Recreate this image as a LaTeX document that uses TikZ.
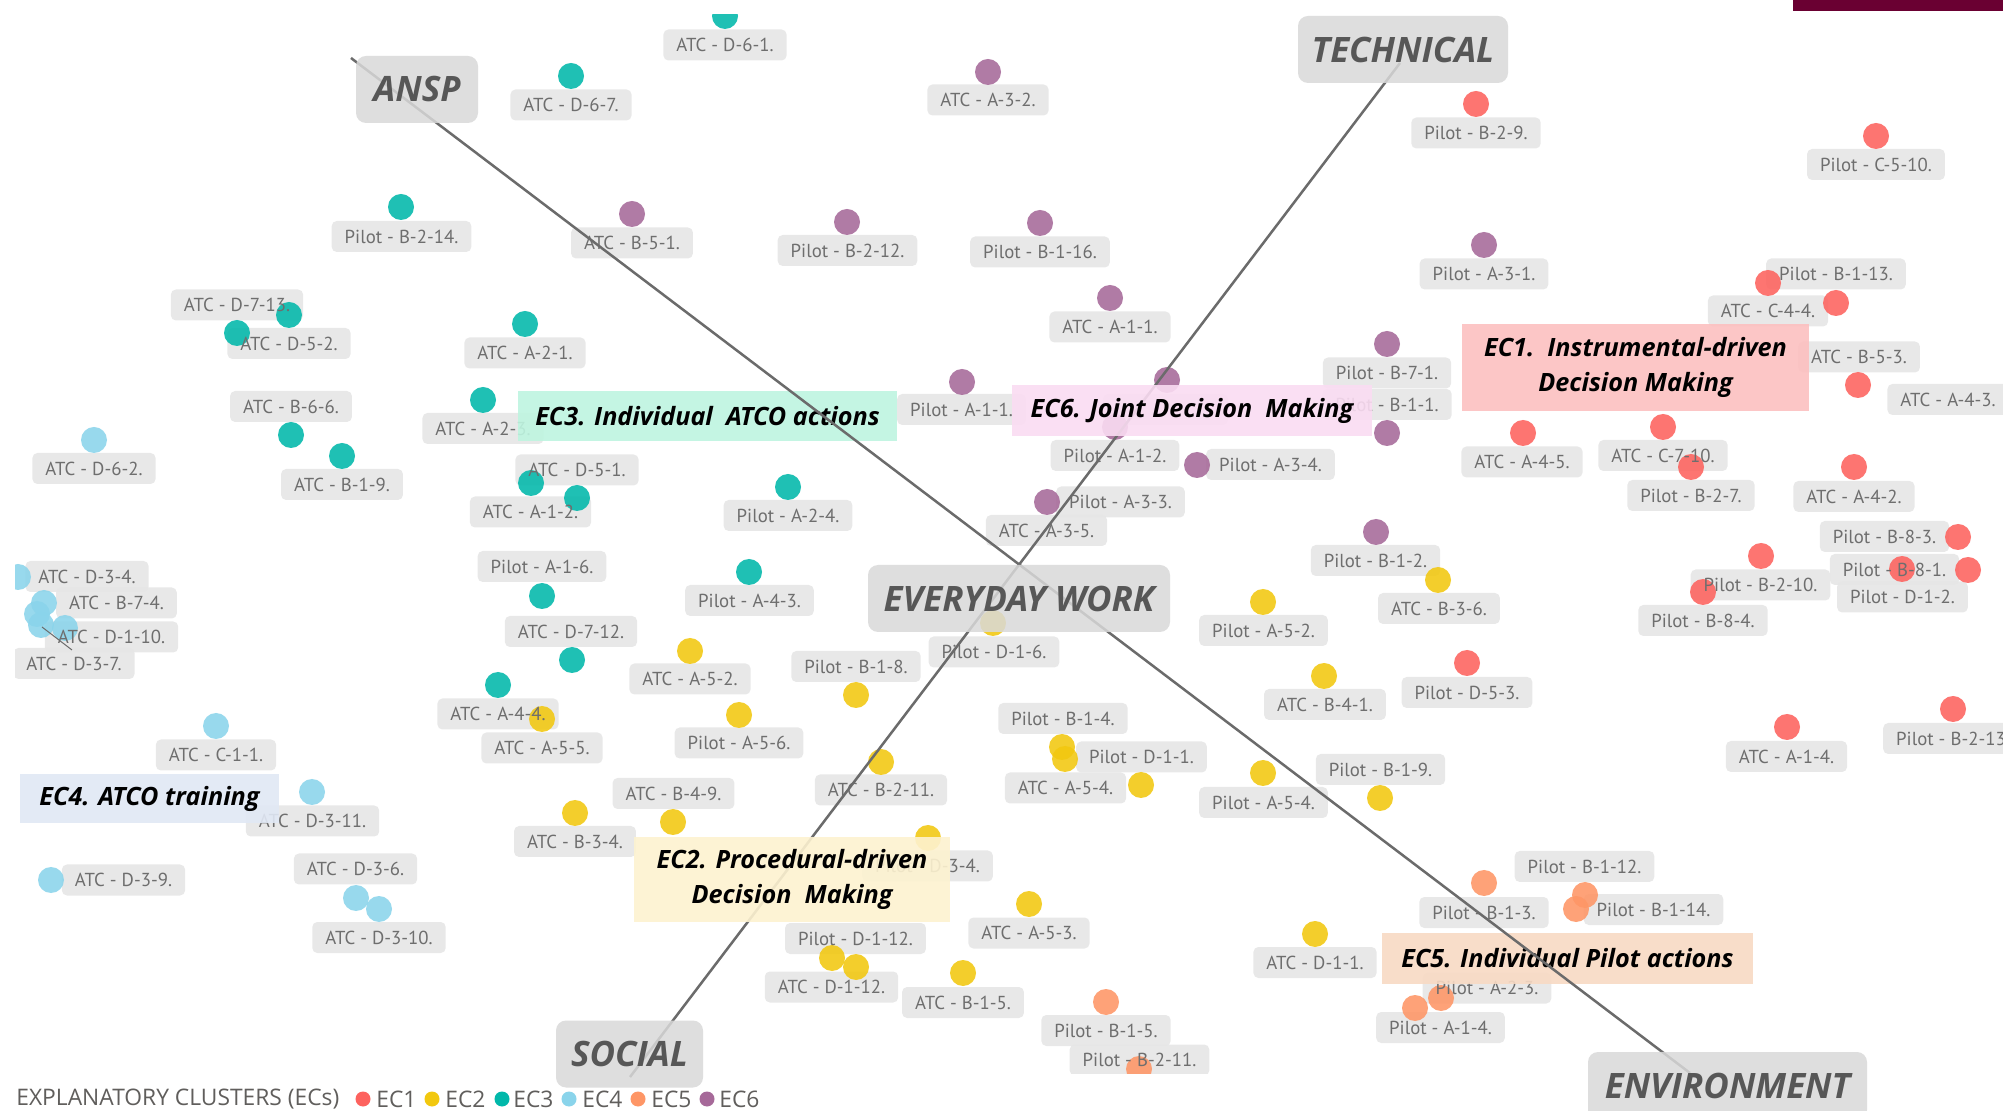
\documentclass[tikz,border=0pt]{standalone}
\usepackage{fontspec}
\newfontfamily\lblfont{PT Sans}
\newfontfamily\uifont{Open Sans}
\definecolor{econe}{HTML}{FD625E}
\definecolor{ectwo}{HTML}{F2C80F}
\definecolor{ecthree}{HTML}{01B8AA}
\definecolor{ecfour}{HTML}{8AD4EB}
\definecolor{ecfive}{HTML}{FE9666}
\definecolor{ecsix}{HTML}{A66999}
\definecolor{bgone}{HTML}{FCC0C0}
\definecolor{bgtwo}{HTML}{FDF2D0}
\definecolor{bgthree}{HTML}{BEF5E0}
\definecolor{bgfour}{HTML}{E1E8F5}
\definecolor{bgfive}{HTML}{F8DAC4}
\definecolor{bgsix}{HTML}{FADCF2}
\definecolor{lblfill}{HTML}{E6E6E6}
\definecolor{lbltext}{HTML}{6E6E6E}
\definecolor{axfill}{HTML}{D9D9D9}
\definecolor{axtext}{HTML}{575757}
\definecolor{axline}{HTML}{6B6B6B}
\definecolor{legtext}{HTML}{605E5C}
\definecolor{maroon}{HTML}{6A0032}
\begin{document}
\begin{tikzpicture}[x=0.5pt,y=-0.5pt,
  lblbox/.style={fill=lblfill, fill opacity=0.9, rounded corners=2.5pt,
    minimum height=15.5pt, inner xsep=6.5pt, inner ysep=0pt,
    font=\lblfont\fontsize{9.4}{12}\selectfont},
  lbltxt/.style={minimum height=15.5pt, inner xsep=6.5pt, inner ysep=0pt,
    text=lbltext, font=\lblfont\fontsize{9.4}{12}\selectfont},
  dot/.style={circle, fill=#1, fill opacity=0.88, minimum size=13pt, inner sep=0pt},
  legdot/.style={circle, fill=#1, minimum size=7.5pt, inner sep=0pt},
  legend/.style={anchor=west, inner sep=0pt, text=legtext,
    font=\uifont\fontsize{11.4}{13}\selectfont},
  ecbox/.style={fill=#1, fill opacity=0.9, text opacity=1, inner sep=0pt,
    align=center, text=black,
    font=\uifont\bfseries\itshape\fontsize{12.6}{17.5}\selectfont},
  axbox/.style={fill=axfill, fill opacity=0.85, text opacity=1,
    rounded corners=5pt, inner sep=0pt, minimum height=33.5pt, text=axtext,
    font=\uifont\bfseries\itshape\fontsize{17.5}{19}\selectfont},
  axis/.style={draw=axline, line width=1.25pt}]
\useasboundingbox (0,0) rectangle (2003,1111);
\fill[white] (0,0) rectangle (2003,1111);
\fill[maroon] (1793,0) rectangle (2003,11);

% data points: colour / x / y
\def\dotlist{
ecthree/401/207, ecthree/289/315, ecthree/237/333, ecthree/725/16,
ecthree/571/76, ecthree/525/324, ecthree/483/400, ecthree/291/435,
ecthree/342/456, ecthree/531/483, ecthree/577/498, ecthree/788/487,
ecthree/542/596, ecthree/572/660, ecthree/749/572, ecthree/498/685,
ecsix/988/72, ecsix/632/214, ecsix/847/222, ecsix/1040/223, ecsix/1110/298,
ecsix/1484/245, ecsix/1387/344, ecsix/962/382, ecsix/1167/380,
ecsix/1115/427, ecsix/1387/433, ecsix/1197/465, ecsix/1047/502,
ecsix/1376/532,
econe/1476/104, econe/1876/136, econe/1768/283, econe/1836/303,
econe/1858/385, econe/1523/433, econe/1663/427, econe/1691/467,
econe/1854/467, econe/1958/537, econe/1902/569, econe/1968/570,
econe/1761/556, econe/1703/592, econe/1467/663, econe/1787/727,
econe/1953/709,
ectwo/993/623, ectwo/690/651, ectwo/856/695, ectwo/739/715, ectwo/542/719,
ectwo/575/813, ectwo/673/822, ectwo/881/762, ectwo/928/838, ectwo/832/958,
ectwo/856/967, ectwo/963/973, ectwo/1029/904, ectwo/1062/747,
ectwo/1065/759, ectwo/1141/785, ectwo/1263/773, ectwo/1380/798,
ectwo/1315/934, ectwo/1438/580, ectwo/1263/602, ectwo/1324/676,
ecfour/94/440, ecfour/18/577, ecfour/44/603, ecfour/37/614, ecfour/41/625,
ecfour/65/628, ecfour/216/726, ecfour/312/792, ecfour/51/880,
ecfour/356/898, ecfour/379/909,
ecfive/1106/1002, ecfive/1139/1069, ecfive/1484/883, ecfive/1415/1008,
ecfive/1441/998, ecfive/1585/895, ecfive/1576/909}

% data labels: x / y / text
\def\lablist{
401.5/236.5/Pilot - B-2-14., 237/305/ATC - D-7-13., 289/343.5/ATC - D-5-2.,
725/45/ATC - D-6-1., 571/105/ATC - D-6-7., 988/100/ATC - A-3-2.,
632/243/ATC - B-5-1., 847.5/250.5/Pilot - B-2-12., 525/353/ATC - A-2-1.,
1040/252/Pilot - B-1-16., 1110/327/ATC - A-1-1., 1476/133/Pilot - B-2-9.,
1484/274/Pilot - A-3-1., 1387/373/Pilot - B-7-1., 1876/164.5/Pilot - C-5-10.,
1836/274/Pilot - B-1-13., 1768/311/ATC - C-4-4., 1859/357/ATC - B-5-3.,
1948/399.5/ATC - A-4-3., 1522/462/ATC - A-4-5., 1663/455.5/ATC - C-7-10.,
1691/495.5/Pilot - B-2-7., 1854/496.5/ATC - A-4-2., 1884.5/536.5/Pilot - B-8-3.,
1894.5/569.5/Pilot - B-8-1., 1902.5/597/Pilot - D-1-2.,
1760.5/585/Pilot - B-2-10., 1703/620.5/Pilot - B-8-4.,
1786.5/756.5/ATC - A-1-4., 1953/738.5/Pilot - B-2-13.,
961.5/409.5/Pilot - A-1-1., 483/428.5/ATC - A-2-3., 577/470/ATC - D-5-1.,
530.5/512/ATC - A-1-2., 788/515.5/Pilot - A-2-4., 542/566.5/Pilot - A-1-6.,
571/631.5/ATC - D-7-12., 749.5/600.5/Pilot - A-4-3., 994/652/Pilot - D-1-6.,
690/679/ATC - A-5-2., 856/666.5/Pilot - B-1-8., 739/743/Pilot - A-5-6.,
498/714/ATC - A-4-4., 542/748/ATC - A-5-5., 291/406.5/ATC - B-6-6.,
342/484.5/ATC - B-1-9., 94/468.5/ATC - D-6-2., 87/576.5/ATC - D-3-4.,
116.5/603/ATC - B-7-4., 111.5/637/ATC - D-1-10., 74/663.5/ATC - D-3-7.,
216/755/ATC - C-1-1., 312.5/821/ATC - D-3-11., 123.5/880/ATC - D-3-9.,
355.5/869/ATC - D-3-6., 379/937.5/ATC - D-3-10., 575/841.5/ATC - B-3-4.,
673.5/793.5/ATC - B-4-9., 881/790/ATC - B-2-11., 927.5/866/Pilot - D-3-4.,
855.5/938.5/Pilot - D-1-12., 831.5/987/ATC - D-1-12., 963/1002.5/ATC - B-1-5.,
1029/933/ATC - A-5-3., 1065.5/788/ATC - A-5-4., 1141.5/757/Pilot - D-1-1.,
1063/718.5/Pilot - B-1-4., 1263.5/802.5/Pilot - A-5-4.,
1380.5/769.5/Pilot - B-1-9., 1315/962.5/ATC - D-1-1.,
1106/1030.5/Pilot - B-1-5., 1139.5/1060/Pilot - B-2-11.,
1484/912.5/Pilot - B-1-3., 1487/988/Pilot - A-2-3., 1440.5/1027.5/Pilot - A-1-4.,
1584.5/866.5/Pilot - B-1-12., 1653.5/909.5/Pilot - B-1-14.,
1387/404.5/Pilot - B-1-1., 1115/455.5/Pilot - A-1-2., 1270.5/464.5/Pilot - A-3-4.,
1120.5/502/Pilot - A-3-3., 1046.5/530.5/ATC - A-3-5., 1375.5/560.5/Pilot - B-1-2.,
1439/608.5/ATC - B-3-6., 1263.5/630.5/Pilot - A-5-2., 1325/704.5/ATC - B-4-1.,
1467/692.5/Pilot - D-5-3.}

\begin{scope}
  \clip (15,15) rectangle (2003,1073);
  % label backgrounds, then the points, then the label texts
  \foreach \x/\y/\txt [count=\i] in \lablist
    \node[lblbox] (lab\i) at (\x,\y) {\phantom{\txt}};
  \node[lblbox, minimum width=62.5pt] (labblank) at (1165.5,409.5) {};
  \foreach \c/\x/\y [count=\i] in \dotlist
    \node[dot=\c] (pt\i) at (\x,\y) {};
  \foreach \x/\y/\txt [count=\i] in \lablist
    \node[lbltxt] (labtxt\i) at (lab\i.center) {\txt};
  \coordinate (tickA) at (42,627);
  \coordinate (tickB) at (72,650);
  \draw[axline, line width=0.5pt] (tickA) -- (tickB);
\end{scope}

% cluster captions lying under the axes
\node[ecbox=bgthree, minimum width=189.5pt, minimum height=25pt] (capthree)
  at (707.5,416) {EC3. Individual\ \ ATCO actions};
\node[ecbox=bgfive, minimum width=185.5pt, minimum height=25.5pt] (capfive)
  at (1567.5,958.5) {EC5. Individual Pilot actions};

% axes
\coordinate (anspEnd) at (351,58);
\coordinate (envEnd) at (1690,1073);
\coordinate (techEnd) at (1400,63);
\coordinate (socEnd) at (630,1077);
\draw[axis] (anspEnd) -- (envEnd);
\draw[axis] (techEnd) -- (socEnd);

% cluster captions lying over the axes
\node[ecbox=bgone, minimum width=173.5pt, minimum height=43.5pt] (capone)
  at (1635.5,367.5) {EC1.\ \ Instrumental-driven\\Decision Making};
\node[ecbox=bgtwo, minimum width=158pt, minimum height=42.5pt] (captwo)
  at (792,879.5) {EC2. Procedural-driven\\Decision\ \ Making};
\node[ecbox=bgfour, minimum width=129.5pt, minimum height=24.5pt] (capfour)
  at (149.5,798.5) {EC4. ATCO training};
\node[ecbox=bgsix, minimum width=180pt, minimum height=25.5pt] (capsix)
  at (1192,410.5) {EC6. Joint Decision\ \ Making};

% axis end and centre labels
\node[axbox, minimum width=61pt] (ansp) at (417,89.5) {ANSP};
\node[axbox, minimum width=105pt] (technical) at (1403,49.5) {TECHNICAL};
\node[axbox, minimum width=151pt] (everyday) at (1019,598.5) {EVERYDAY WORK};
\node[axbox, minimum width=73.5pt] (social) at (629.5,1054) {SOCIAL};
\node[axbox, minimum width=139.5pt, minimum height=34pt] (environment)
  at (1727.5,1086) {ENVIRONMENT};

% legend
\node[legend] (legtitle) at (16,1099) {EXPLANATORY CLUSTERS (ECs)};
\foreach \c/\dx/\tx/\lab [count=\i] in
  {econe/363/376/EC1, ectwo/432/445/EC2, ecthree/502/513/EC3,
   ecfour/569/582/EC4, ecfive/638/651/EC5, ecsix/707/719/EC6}{
  \node[legdot=\c] (legdot\i) at (\dx,1099) {};
  \node[legend] (legtxt\i) at (\tx,1099) {\lab};
}
\end{tikzpicture}
\end{document}
